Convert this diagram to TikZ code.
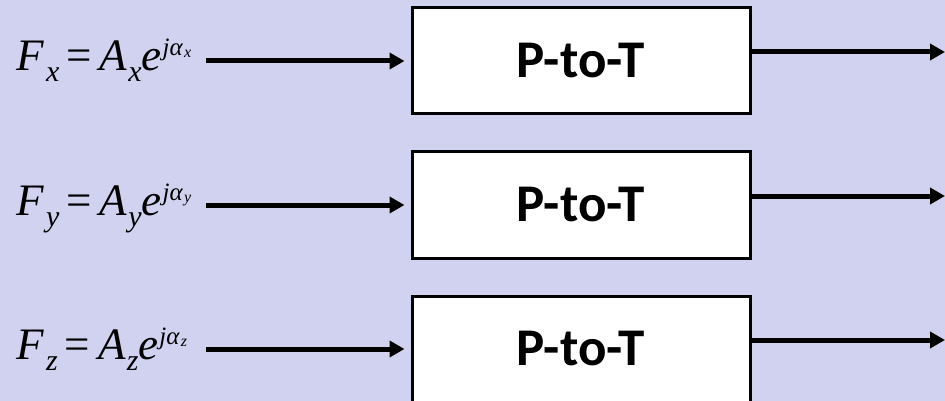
\documentclass[tikz,border=0pt]{standalone}
\usepackage{fontspec}
\setmainfont{Liberation Serif}
\newfontfamily\boxfont{Carlito}
\usetikzlibrary{arrows.meta}
\definecolor{bgc}{RGB}{209,209,240}
\tikzset{
  blk/.style={draw=black, line width=3pt, fill=white, minimum width=338pt, minimum height=106pt, inner sep=0pt,
    font=\boxfont\bfseries\fontsize{53}{53}\selectfont},
  arr/.style={line width=5pt, -{Triangle[length=15pt,width=16pt]}},
  eqn/.style={anchor=base west, inner sep=0pt, font=\fontsize{45}{45}\selectfont}
}
\newcommand{\myeq}[1]{\textit{F}\hspace{2pt}\raisebox{-11pt}{\fontsize{30}{30}\selectfont\textit{#1}}\hspace{7pt}=\hspace{8pt}\textit{A}\hspace{1pt}\raisebox{-11pt}{\fontsize{30}{30}\selectfont\textit{#1}}\textit{e}\hspace{1pt}\raisebox{15pt}{\fontsize{25}{25}\selectfont\textit{jα}\raisebox{-2pt}{\fontsize{16}{16}\selectfont\hspace{1pt}\textit{#1}}}}
\begin{document}
\begin{tikzpicture}[x=1pt,y=-1pt]
\fill[bgc] (0,0) rectangle (945,401);
\useasboundingbox (0,0) rectangle (945,401);
\foreach \n/\s/\yc in {1/x/61,2/y/205,3/z/349}{
  \node[blk] (b\n) at (581,\yc) {P-to-T};
  \node[eqn] (e\n) at (16,\yc+10) {\myeq{\s}};
  \coordinate (i\n) at (206,\yc);
  \coordinate (o\n) at (945,\yc-9);
  \draw[arr, shorten >=6pt] (i\n) -- (b\n.west);
  \draw[arr] ([yshift=9pt]b\n.east) -- (o\n);
}
\end{tikzpicture}
\end{document}
